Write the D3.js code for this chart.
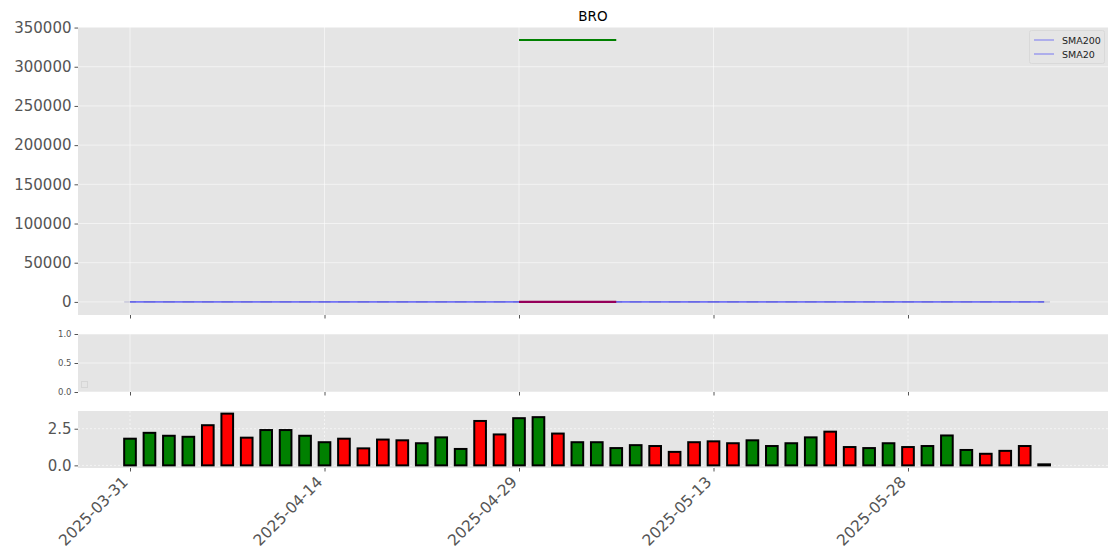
<!DOCTYPE html>
<html><head><meta charset="utf-8">
<script src="https://cdn.jsdelivr.net/npm/d3@7"></script>
<style>
html,body{margin:0;padding:0;background:#fff;}
text{font-family:"DejaVu Sans",sans-serif;}
</style></head>
<body><svg id="c" width="1120" height="560"></svg>
<script>
const dates = ["2025-03-31","2025-04-01","2025-04-02","2025-04-03","2025-04-04","2025-04-07","2025-04-08","2025-04-09","2025-04-10","2025-04-11",
"2025-04-14","2025-04-15","2025-04-16","2025-04-17","2025-04-21","2025-04-22","2025-04-23","2025-04-24","2025-04-25","2025-04-28",
"2025-04-29","2025-04-30","2025-05-01","2025-05-02","2025-05-05","2025-05-06","2025-05-07","2025-05-08","2025-05-09","2025-05-12",
"2025-05-13","2025-05-14","2025-05-15","2025-05-16","2025-05-19","2025-05-20","2025-05-21","2025-05-22","2025-05-23","2025-05-27",
"2025-05-28","2025-05-29","2025-05-30","2025-06-02","2025-06-03","2025-06-04","2025-06-05","2025-06-06"];
const volume = [1.82,2.22,2.02,1.95,2.74,3.53,1.89,2.41,2.41,2.02,
1.58,1.82,1.16,1.76,1.71,1.51,1.91,1.12,3.03,2.11,
3.22,3.29,2.17,1.58,1.58,1.18,1.38,1.32,0.92,1.58,
1.64,1.51,1.71,1.32,1.51,1.91,2.30,1.25,1.18,1.51,
1.25,1.32,2.04,1.05,0.79,0.99,1.32,0.07];
const direction = ["up","up","up","up","down","down","down","up","up","up",
"up","down","down","down","down","up","up","up","down","down",
"up","up","down","up","up","up","up","down","down","down",
"down","down","up","up","up","up","down","down","up","up",
"down","up","up","up","down","down","down","up"];
const sma200 = new Array(48).fill(0).map((d,i)=>({i:i,v:0}));
const sma20 = new Array(48).fill(0).map((d,i)=>({i:i,v:0}));
const levelStart = 20, levelEnd = 25;
const highLevel = 334000, lowLevel = 0;
const tickIdx = [0,10,20,30,40];
const tickLabels = ["2025-03-31","2025-04-14","2025-04-29","2025-05-13","2025-05-28"];
const mainTicks = [0,50000,100000,150000,200000,250000,300000,350000];
const midTicks = [0.0,0.5,1.0];
const volTicks = [0.0,2.5];
const legendNames = ["SMA200","SMA20"];

const svg = d3.select("#c");
const L = 78, R = 1108;
const x = d3.scaleLinear().domain([-2.674, 50.283]).range([L, R]);
const yMain = d3.scaleLinear().domain([-16700, 350700]).range([315, 27]);
const yMid = d3.scaleLinear().domain([0, 1]).range([392, 334]);
const yVol = d3.scaleLinear().domain([-0.18, 3.71]).range([468, 411]);
const bg = "#E5E5E5", tc = "#555555";

function panel(y) {
  const [b, t] = y.range();
  const g = svg.append("g");
  g.append("rect").attr("x", L).attr("y", t).attr("width", R - L).attr("height", b - t).attr("fill", bg);
  return g;
}
function grid(g, y, ticks, dashed) {
  const [b, t] = y.range();
  const op = dashed ? 0.6 : 0.55;
  g.selectAll(null).data(ticks).enter().append("line")
    .attr("x1", L).attr("x2", R).attr("y1", d => y(d)).attr("y2", d => y(d))
    .attr("stroke", "#fff").attr("stroke-width", 1).attr("stroke-dasharray", dashed ? "2,2" : null).attr("opacity", op);
  g.selectAll(null).data(tickIdx).enter().append("line")
    .attr("x1", d => x(d)).attr("x2", d => x(d)).attr("y1", t).attr("y2", b)
    .attr("stroke", "#fff").attr("stroke-width", 1).attr("stroke-dasharray", dashed ? "2,2" : null).attr("opacity", op);
}
function yAxis(y, ticks, fmt, fs) {
  const ax = d3.axisLeft(y).tickValues(ticks).tickFormat(fmt).tickSize(3.5).tickPadding(3);
  const g = svg.append("g").attr("transform", `translate(${L},0)`).call(ax);
  g.select(".domain").remove();
  g.selectAll("line").attr("stroke", tc);
  g.selectAll("text").attr("fill", tc).style("font-size", fs + "px").style("font-family", "DejaVu Sans");
}
function xTicks(y) {
  const b = y.range()[0];
  const ax = d3.axisBottom(x).tickValues(tickIdx).tickFormat("").tickSize(3.5);
  const g = svg.append("g").attr("transform", `translate(0,${b})`).call(ax);
  g.select(".domain").remove();
  g.selectAll("line").attr("stroke", tc);
}

// main panel
const gm = panel(yMain);
grid(gm, yMain, mainTicks, false);
yAxis(yMain, mainTicks, d3.format("d"), 15);
xTicks(yMain);
const line = d3.line().x(d => x(d.i)).y(d => yMain(d.v));
gm.append("path").datum(sma200).attr("d", line).attr("fill", "none").attr("stroke", "blue").attr("stroke-opacity", 0.3).attr("stroke-width", 1.6);
gm.append("path").datum(sma20).attr("d", line).attr("fill", "none").attr("stroke", "blue").attr("stroke-opacity", 0.3).attr("stroke-width", 1.6);
// flattened candle bodies along the zero line
gm.selectAll(null).data(direction).enter().append("line")
  .attr("x1", (d, i) => x(i - 0.3)).attr("x2", (d, i) => x(i + 0.3))
  .attr("y1", yMain(0)).attr("y2", yMain(0))
  .attr("stroke", "#2a2a90").attr("stroke-opacity", 0.18).attr("stroke-width", 1.6);
gm.append("line").attr("x1", x(levelStart)).attr("x2", x(levelEnd)).attr("y1", yMain(lowLevel)).attr("y2", yMain(lowLevel))
  .attr("stroke", "#95005a").attr("stroke-width", 2.2);
gm.append("line").attr("x1", x(levelStart)).attr("x2", x(levelEnd)).attr("y1", yMain(highLevel)).attr("y2", yMain(highLevel))
  .attr("stroke", "green").attr("stroke-width", 2);
svg.append("text").attr("x", (L + R) / 2).attr("y", 21).attr("text-anchor", "middle").style("font-size", "13.5px").attr("fill", "#000").text("BRO");

// legend
const lg = svg.append("g");
lg.append("rect").attr("x", 1029.5).attr("y", 30.5).attr("width", 75).attr("height", 33).attr("rx", 2)
  .attr("fill", bg).attr("stroke", "#d8d8d8").attr("opacity", 0.9);
legendNames.forEach((n, k) => {
  const yy = 40 + k * 14;
  lg.append("line").attr("x1", 1034).attr("x2", 1054).attr("y1", yy).attr("y2", yy).attr("stroke", "blue").attr("stroke-opacity", 0.3).attr("stroke-width", 1.6);
  lg.append("text").attr("x", 1062).attr("y", yy + 3.5).style("font-size", "9.5px").attr("fill", "#222").text(n);
});

// middle panel
const gmid = panel(yMid);
grid(gmid, yMid, midTicks, false);
yAxis(yMid, midTicks, d3.format(".1f"), 8.5);
xTicks(yMid);
gmid.append("rect").attr("x", 81.5).attr("y", 381.5).attr("width", 6).attr("height", 6).attr("fill", "none").attr("stroke", "#d6d6d6");

// volume panel
const gv = panel(yVol);
grid(gv, yVol, volTicks, true);
yAxis(yVol, volTicks, d3.format(".1f"), 15);
xTicks(yVol);
const bw = 0.6;
gv.selectAll(null).data(volume).enter().append("rect")
  .attr("x", (d, i) => x(i - bw / 2)).attr("width", x(bw) - x(0))
  .attr("y", d => yVol(d)).attr("height", d => yVol(0) - yVol(d))
  .attr("fill", (d, i) => direction[i] === "up" ? "green" : "red")
  .attr("stroke", "#000").attr("stroke-width", 2);

// x labels
svg.append("g").selectAll("text").data(tickIdx).enter().append("text")
  .attr("transform", (d) => `translate(${x(d) - 1},${483}) rotate(-45)`)
  .attr("text-anchor", "end").style("font-size", "15.5px").attr("fill", tc)
  .text((d, k) => tickLabels[k]);
</script></body></html>
